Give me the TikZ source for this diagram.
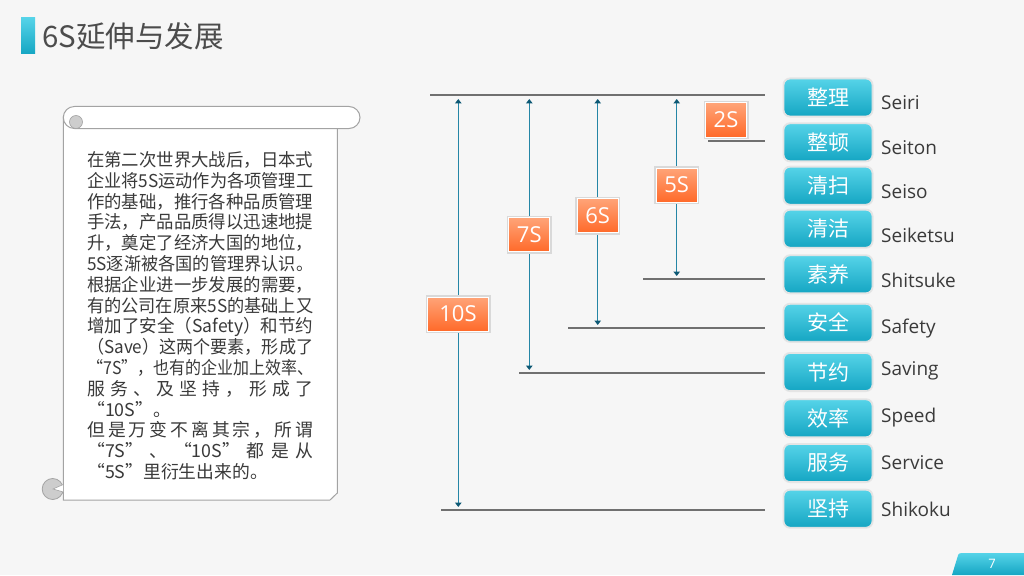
\documentclass[tikz,border=0pt]{standalone}
\usepackage{fontspec}
\usepackage{graphicx}
\setmainfont{Noto Sans CJK SC}
\newfontfamily\latfont{Open Sans}
\usetikzlibrary{arrows.meta}
\definecolor{bgc}{HTML}{F6F6F6}
\definecolor{tealtop}{HTML}{55D3E8}
\definecolor{tealbot}{HTML}{15A6C3}
\definecolor{orgtop}{HTML}{FFA478}
\definecolor{orgbot}{HTML}{FF6A2A}
\definecolor{linegray}{HTML}{707070}
\definecolor{arrline}{HTML}{2586A6}
\definecolor{arrtip}{HTML}{0D5874}
\definecolor{txtc}{HTML}{3A3A3A}
\definecolor{scrollc}{HTML}{A3A3A3}
\definecolor{curlc}{HTML}{CDCDCD}
\newcommand{\jline}[1]{\resizebox{226pt}{\height}{#1}}
\tikzset{
  btn/.style={rounded corners=6pt, top color=tealtop, bottom color=tealbot,
    draw=black!10, line width=0.8pt, preaction={draw=black!10, line width=3pt},
    minimum width=88pt, minimum height=37pt, inner sep=0pt, text=white,
    font=\fontsize{21}{21}\selectfont},
  olab/.style={top color=orgtop, bottom color=orgbot, draw=white, line width=1pt,
    preaction={draw=black!15, line width=4pt},
    minimum width=41pt, minimum height=34pt, inner sep=0pt, text=white,
    font=\latfont\fontsize{22}{22}\selectfont},
  elab/.style={anchor=west, inner sep=0pt, text=txtc, font=\latfont\fontsize{19}{19}\selectfont},
  para/.style={anchor=base west, inner sep=0pt, text=txtc, font=\fontsize{17.8}{20.8}\selectfont},
  hline/.style={draw=linegray, line width=1.2pt},
  dimarrow/.style={draw=arrline, line width=1.2pt,
    {Triangle[width=6.5pt,length=4.5pt,color=arrtip]}-{Triangle[width=6.5pt,length=4.5pt,color=arrtip]},
    shorten <=4pt, shorten >=3pt},
}
\begin{document}
\begin{tikzpicture}[x=1pt,y=-1pt]
\useasboundingbox (0,0) rectangle (1024,575);
\fill[bgc] (0,0) rectangle (1024,575);

% title
\shade[top color=tealtop, bottom color=tealbot] (21,18) rectangle (35,54);
\node[anchor=west, inner sep=0pt, text=black!70, font=\fontsize{29.5}{29.5}\selectfont] (title) at (42,36) {6S延伸与发展};

% scroll
\filldraw[fill=white, draw=scrollc, line width=1pt] (63.3,117) -- (63.3,500) -- (330,500) -- (337.3,493) -- (337.3,128) -- cycle;
\filldraw[fill=white, draw=scrollc, line width=1pt, rounded corners=11pt] (63.3,106.5) rectangle (360,128.5);
\filldraw[fill=curlc, draw=scrollc, line width=0.6pt] (76,122) circle (6.5pt);
\filldraw[fill=curlc, draw=scrollc, line width=0.8pt] (52.7,489) circle (10.5pt);
\filldraw[fill=white, draw=scrollc, line width=0.6pt] (53,489) -- (63.3,484.5) -- (63.3,492) -- cycle;

% paragraph
\node[para] (p1) at (87,166.5) {\jline{在第二次世界大战后，日本式}};
\node[para] (p2) at (87,187.3) {\jline{企业将5S运动作为各项管理工}};
\node[para] (p3) at (87,208.1) {\jline{作的基础，推行各种品质管理}};
\node[para] (p4) at (87,228.9) {\jline{手法，产品品质得以迅速地提}};
\node[para] (p5) at (87,249.7) {\jline{升，奠定了经济大国的地位，}};
\node[para] (p6) at (87,270.5) {\jline{5S逐渐被各国的管理界认识。}};
\node[para] (p7) at (87,291.3) {\jline{根据企业进一步发展的需要，}};
\node[para] (p8) at (87,312.1) {\jline{有的公司在原来5S的基础上又}};
\node[para] (p9) at (87,332.9) {\jline{增加了安全（Safety）和节约}};
\node[para] (p10) at (87,353.7) {\jline{（Save）这两个要素，形成了}};
\node[para] (p11) at (87,374.5) {\jline{“7S”，也有的企业加上效率、}};
\node[para] (p12) at (87,395.3) {\makebox[226pt][s]{服\hfil 务\hfil 、\hfil 及\hfil 坚\hfil 持\hfil ，\hfil 形\hfil 成\hfil 了}};
\node[para] (p13) at (87,416.1) {“10S”。};
\node[para] (p14) at (87,436.9) {\makebox[226pt][s]{但\hfil 是\hfil 万\hfil 变\hfil 不\hfil 离\hfil 其\hfil 宗\hfil ，\hfil 所\hfil 谓}};
\node[para] (p15) at (87,457.7) {\makebox[226pt][s]{“7S”\hfil 、\hfil “10S”\hfil 都\hfil 是\hfil 从}};
\node[para] (p16) at (87,478.5) {“5S”里衍生出来的。};

% horizontal lines
\coordinate (h0a) at (430,95);   \coordinate (h0b) at (765,95);
\coordinate (h2a) at (708,141);  \coordinate (h2b) at (765,141);
\coordinate (h5a) at (643,279);  \coordinate (h5b) at (765,279);
\coordinate (h6a) at (568,328);  \coordinate (h6b) at (765,328);
\coordinate (h7a) at (519,373);  \coordinate (h7b) at (765,373);
\coordinate (h10a) at (441,510); \coordinate (h10b) at (765,510);
\foreach \n in {0,2,5,6,7,10} \draw[hline] (h\n a) -- (h\n b);

% vertical arrows
\coordinate (t10) at (458.3,95); \coordinate (e10) at (458.3,510);
\coordinate (t7) at (529.3,95);  \coordinate (e7) at (529.3,373);
\coordinate (t6) at (597.7,95);  \coordinate (e6) at (597.7,328);
\coordinate (t5) at (676.7,95);  \coordinate (e5) at (676.7,279);
\draw[dimarrow] (t10) -- (e10);
\draw[dimarrow] (t7) -- (e7);
\draw[dimarrow] (t6) -- (e6);
\draw[dimarrow] (t5) -- (e5);

% orange labels
\node[olab] (s2) at (726,120) {2S};
\node[olab] (s5) at (676.7,185) {5S};
\node[olab] (s6) at (597.7,215.5) {6S};
\node[olab] (s7) at (529.3,234.5) {7S};
\node[olab, minimum width=61pt] (s10) at (458,314) {10S};

% buttons
\node[btn] (b1) at (828,97.5) {整理};
\node[btn] (b2) at (828,142.3) {整顿};
\node[btn] (b3) at (828,185.7) {清扫};
\node[btn] (b4) at (828,228.7) {清洁};
\node[btn] (b5) at (828,274.3) {素养};
\node[btn] (b6) at (828,322.8) {安全};
\node[btn] (b7) at (828,372) {节约};
\node[btn] (b8) at (828,418.3) {效率};
\node[btn] (b9) at (828,463) {服务};
\node[btn] (b10) at (828,508.7) {坚持};

% english labels
\node[elab] (l1) at (881,103) {Seiri};
\node[elab] (l2) at (881,148) {Seiton};
\node[elab] (l3) at (881,192) {Seiso};
\node[elab] (l4) at (881,235) {Seiketsu};
\node[elab] (l5) at (881,280) {Shitsuke};
\node[elab] (l6) at (881,329) {Safety};
\node[elab] (l7) at (881,371) {Saving};
\node[elab] (l8) at (881,418) {Speed};
\node[elab] (l9) at (881,463) {Service};
\node[elab] (l10) at (881,509) {Shikoku};

% page tab
\shade[top color=tealtop, bottom color=tealbot] (952,575) -- (957.5,557) .. controls (958.5,553.5) .. (962,553) -- (1024,553) -- (1024,575) -- cycle;
\node[text=white, inner sep=0pt, font=\latfont\fontsize{13}{13}\selectfont] (pg) at (992,563.5) {7};
\end{tikzpicture}
\end{document}
